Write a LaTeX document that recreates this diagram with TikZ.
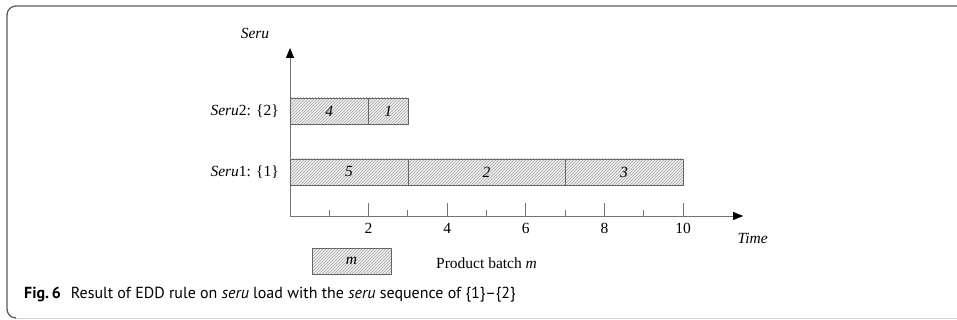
\documentclass[tikz,border=0pt]{standalone}
\usepackage{fontspec}
\setmainfont{Liberation Serif}
\newfontfamily\capfont{PT Sans}
\usetikzlibrary{patterns,arrows.meta}

\tikzset{
  frameline/.style={line width=1.3pt, draw=black!65, rounded corners=9pt},
  framebottom/.style={line width=1pt, draw=black!18},
  axis/.style={line width=0.9pt, draw=black!55, -{Triangle[length=10pt,width=8pt,black]}},
  tick/.style={line width=0.9pt, draw=black!55},
  batch/.style={draw=black!60, line width=0.8pt, pattern=north east lines, pattern color=black!35,
                preaction={fill=black!6}},
  lbl/.style={font=\fontsize{15.5}{17}\selectfont, inner sep=0pt},
  caption/.style={font=\capfont\fontsize{16}{18}\selectfont, inner sep=0pt, anchor=west}
}

\begin{document}
\begin{tikzpicture}[x=1pt,y=-1pt]
\useasboundingbox (0,0) rectangle (957,320);

% outer frame
\draw[frameline] (957,6) -- (7,6) -- (7,318) -- (16,318);
\draw[framebottom] (16,318) -- (957,318);

% Gantt chart: one time unit = 39.3pt, origin at the axes crossing
\begin{scope}[shift={(290,216)}, x=39.3pt]
  \coordinate (O) at (0,0);
  \coordinate (xend) at (11.53,0);
  \coordinate (yend) at (0,-168);
  \draw[axis] (O) -- (xend);
  \draw[axis] (O) -- (yend);

  \foreach \i in {1,3,5,7,9} \draw[tick] (\i,0) -- (\i,-6);
  \foreach \i in {2,4,6,8,10} {
    \draw[tick] (\i,0) -- (\i,-13);
    \node[lbl] (t\i) at (\i,12) {\i};
  }

  % seru 2 load
  \draw[batch] (0,-118) rectangle (2,-92);
  \draw[batch] (2,-118) rectangle (3,-92);
  \node[lbl] (b4) at (1,-105) {\textit{4}};
  \node[lbl] (b1) at (2.5,-105) {\textit{1}};

  % seru 1 load
  \draw[batch] (0,-57) rectangle (3,-31);
  \draw[batch] (3,-57) rectangle (7,-31);
  \draw[batch] (7,-57) rectangle (10,-31);
  \node[lbl] (b5) at (1.5,-44) {\textit{5}};
  \node[lbl] (b2) at (5,-44) {\textit{2}};
  \node[lbl] (b3) at (8.5,-44) {\textit{3}};

  \node[lbl, anchor=east] (s2) at (-0.28,-105) {\textit{Seru}2: \{2\}};
  \node[lbl, anchor=east] (s1) at (-0.28,-44) {\textit{Seru}1: \{1\}};
  \node[lbl] (ylab) at (-0.89,-183) {\textit{Seru}};
  \node[lbl] (xlab) at (11.77,22) {\textit{Time}};
\end{scope}

% legend
\draw[batch] (312,248) rectangle (391,274);
\node[lbl] (legm) at (351.5,261) {\textit{m}};
\node[lbl, anchor=west] (legtext) at (436,263) {Product batch \textit{m}};

% caption
\node[caption] (cap) at (24,295) {\textbf{Fig.\,6}\hspace{10pt}Result of EDD rule on \textit{seru} load with the \textit{seru} sequence of \{1\}–\{2\}};
\end{tikzpicture}
\end{document}
